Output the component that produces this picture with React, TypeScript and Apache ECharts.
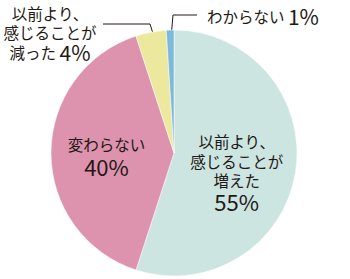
import React, { useEffect, useRef } from "react";
import * as echarts from "echarts";

const categories = [
  "以前より、\n感じることが\n増えた",
  "変わらない",
  "以前より、\n感じることが\n減った",
  "わからない",
];
const values = [55, 40, 4, 1];
const colors = ["#cce5e1", "#dd92ae", "#ece99e", "#7db9da"];

export default function App() {
  const ref = useRef<HTMLDivElement>(null);
  useEffect(() => {
    if (!ref.current) return;
    const chart = echarts.init(ref.current, null, { renderer: "svg" });
    const font = "'Noto Sans CJK JP', 'Noto Sans', sans-serif";
    const txt = "#231815";
    const rich = {
      a: { fontFamily: font, fontSize: 15.5, lineHeight: 19.5, color: txt },
      b: { fontFamily: font, fontSize: 22, lineHeight: 23, color: txt },
      c: { fontFamily: font, fontSize: 21, lineHeight: 19.5, color: txt },
    };
    chart.setOption({
      animation: false,
      series: [
        {
          type: "pie",
          center: [174, 153],
          radius: 123,
          startAngle: 90,
          clockwise: true,
          avoidLabelOverlap: false,
          itemStyle: { borderColor: "#fff", borderWidth: 0.5 },
          labelLine: { show: false },
          data: categories.map((name, i) => {
            const item: any = {
              name,
              value: values[i],
              itemStyle: { color: colors[i] },
            };
            if (i === 0) {
              item.label = {
                show: true,
                position: "inside",
                offset: [-1, 9],
                align: "center",
                formatter: (p: any) =>
                  p.name
                    .split("\n")
                    .map((s: string) => `{a|${s}}`)
                    .join("\n") + `\n{b|${p.value}%}`,
                rich,
              };
            } else if (i === 1) {
              item.label = {
                show: true,
                position: "inside",
                offset: [-3, 3],
                align: "center",
                formatter: (p: any) => `{a|${p.name}}\n{b|${p.value}%}`,
                rich: { ...rich, b: { ...rich.b, lineHeight: 25 } },
              };
            } else if (i === 2) {
              item.label = {
                show: true,
                position: "outside",
                align: "center",
                formatter: (p: any) => {
                  const lines = p.name.split("\n");
                  const last = lines.pop();
                  return (
                    lines.map((s: string) => `{a|${s}}`).join("\n") +
                    `\n{a|${last} }{c|${p.value}%}`
                  );
                },
                rich,
              };
              item.labelLine = {
                show: true,
                lineStyle: { color: "#231815", width: 1 },
              };
            } else {
              item.label = {
                show: true,
                position: "outside",
                formatter: (p: any) => `{a|${p.name} }{c|${p.value}%}`,
                rich,
              };
              item.labelLine = {
                show: true,
                lineStyle: { color: "#231815", width: 1 },
              };
            }
            return item;
          }),
          labelLayout: (params: any) => {
            if (params.dataIndex === 2) {
              return {
                x: 50,
                y: 32,
                align: "center",
                verticalAlign: "middle",
                labelLinePoints: [
                  [155, 40],
                  [150, 24],
                  [103, 24],
                ],
              };
            }
            if (params.dataIndex === 3) {
              return {
                x: 207,
                y: 16,
                align: "left",
                verticalAlign: "middle",
                labelLinePoints: [
                  [171, 38],
                  [173, 15],
                  [197, 15],
                ],
              };
            }
            return {};
          },
        },
      ],
    });
    return () => chart.dispose();
  }, []);
  return (
    <div
      ref={ref}
      style={{ position: "absolute", left: 0, top: 0, width: 350, height: 279 }}
    />
  );
}
